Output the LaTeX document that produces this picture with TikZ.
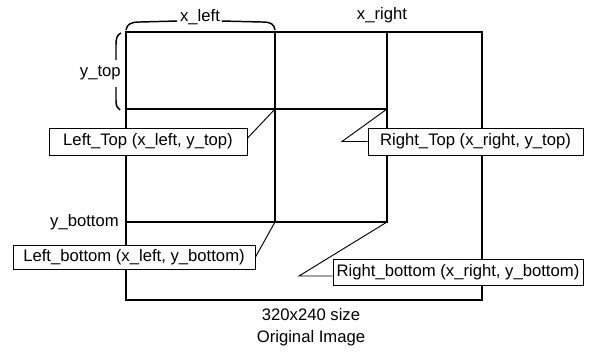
\documentclass[tikz,border=0pt]{standalone}
\usepackage{fontspec}
\setmainfont{Liberation Sans}
\begin{document}
\begin{tikzpicture}[x=0.75pt,y=-0.75pt,
  grid/.style={line width=1.1pt, line cap=rect},
  lbl/.style={font=\fontsize{12.5}{14}\selectfont, inner sep=0pt},
  callout/.style={draw, fill=white, line width=0.7pt, inner sep=0pt,
    font=\fontsize{12.5}{14}\selectfont},
  leader/.style={line width=0.7pt},
  brace/.style={line width=1.1pt}]
\useasboundingbox (0,0) rectangle (591,351);

% corners of the frame and the crossing points
\coordinate (TL) at (126,32);
\coordinate (BR) at (482,300);
\coordinate (xl0) at (275,32);
\coordinate (xr0) at (387,32);
\coordinate (yt0) at (126,109);
\coordinate (yb0) at (126,222);
\coordinate (LT) at (275,109);
\coordinate (RT) at (387,109);
\coordinate (LB) at (275,222);
\coordinate (RB) at (387,222);

% frame and the split lines
\draw[grid] (TL) rectangle (BR);
\draw[grid] (xl0) -- (LB);
\draw[grid] (xr0) -- (RB);
\draw[grid] (yt0) -- (RT);
\draw[grid] (yb0) -- (RB);

% axis labels
\node[lbl] (xl) at (200,17) {x\_left};
\node[lbl] (xr) at (382,15) {x\_right};
\node[lbl, anchor=east] (yt) at (121,73) {y\_top};
\node[lbl, anchor=east] (yb) at (119,222) {y\_bottom};

% brace over x_left
\draw[brace] (126,30) .. controls (127,24) and (131,22) .. (140,22) -- ([xshift=-2pt]xl.west |- 0,21);
\draw[brace] ([xshift=1pt]xl.east |- 0,21) -- (262,22) .. controls (271,22) and (274,24) .. (275,30);

% bracket beside y_top
\draw[brace] (121,33) .. controls (117,35) and (116,38) .. (116,45) -- (116,60);
\draw[brace] (116,87) -- (116,100) .. controls (116,106) and (117,108) .. (120,110);

% callout boxes
\node[callout, minimum width=148.5pt, minimum height=20.25pt] (ltbox) at (148,141.5) {Left\_Top (x\_left, y\_top)};
\node[callout, minimum width=161.25pt, minimum height=20.25pt] (rtbox) at (475.5,141.5) {Right\_Top (x\_right, y\_top)};
\node[callout, minimum width=181.5pt, minimum height=18pt] (lbbox) at (134,257) {Left\_bottom (x\_left, y\_bottom)};
\node[callout, minimum width=187.5pt, minimum height=19.5pt] (rbbox) at (458,272) {Right\_bottom (x\_right, y\_bottom)};

% leaders from boxes to the points
\coordinate (rtk) at (342,141.5);
\coordinate (rbk) at (299,276);
\draw[leader] ([yshift=2.5pt]ltbox.east) -- (LT);
\draw[leader] (RT) -- (rtk) -- (rtk -| rtbox.west);
\draw[leader] (lbbox.east) -- (LB);
\draw[leader] (RB) -- (rbk) -- (rbk -| rbbox.west);

% caption
\node[lbl] (cap1) at (311,315) {320x240 size};
\node[lbl] (cap2) at (311,338) {Original Image};
\end{tikzpicture}
\end{document}
